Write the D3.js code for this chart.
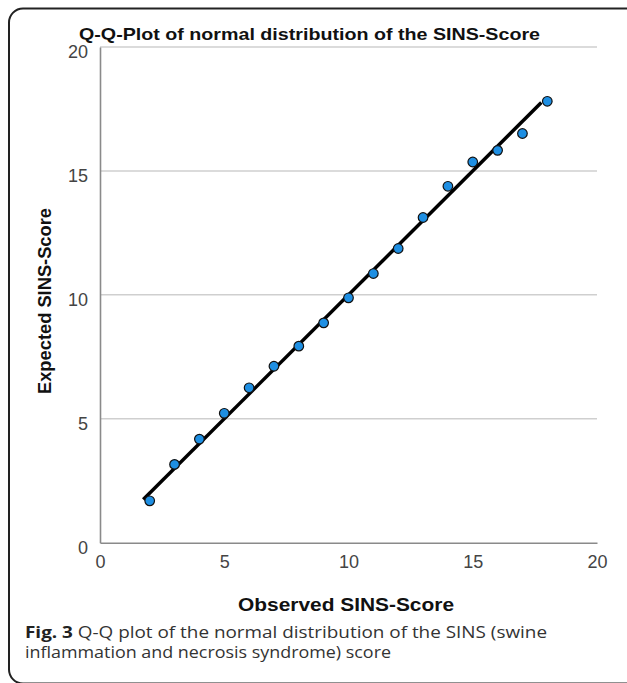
<!DOCTYPE html>
<html><head><meta charset="utf-8">
<script src="https://cdn.jsdelivr.net/npm/d3@7/dist/d3.min.js"></script>
<style>body{margin:0;background:#fff}svg{display:block}</style>
</head><body>
<script>
const observed = [2,3,4,5,6,7,8,9,10,11,12,13,14,15,16,17,18];
const expected = [1.69,3.16,4.18,5.22,6.25,7.12,7.93,8.87,9.88,10.86,11.87,13.12,14.38,15.36,15.83,16.51,17.81];
const lineRange = [1.74, 17.76];
const xTicks = [0,5,10,15,20];
const yTicks = [0,5,10,15,20];
const title = "Q-Q-Plot of normal distribution of the SINS-Score";
const xTitle = "Observed SINS-Score";
const yTitle = "Expected SINS-Score";
const captionBold = "Fig. 3";
const captionLine1 = " Q-Q plot of the normal distribution of the SINS (swine";
const captionLine2 = "inflammation and necrosis syndrome) score";

const W = 627, H = 683;
const svg = d3.select("body").append("svg").attr("width", W).attr("height", H);

svg.append("rect").attr("x", 9).attr("y", 8.5).attr("width", 640).attr("height", 675)
  .attr("rx", 14).attr("fill", "none").attr("stroke", "#222").attr("stroke-width", 2);

const x = d3.scaleLinear().domain([0,20]).range([100, 597]);
const y = d3.scaleLinear().domain([0,20]).range([542.7, 47]);

// gridlines
svg.append("g").selectAll("line").data(yTicks.filter(d => d > 0)).join("line")
  .attr("x1", x(0)).attr("x2", x(20)).attr("y1", d => y(d)).attr("y2", d => y(d))
  .attr("stroke", "#cfcfcf").attr("stroke-width", 1.5);

// axes
const xAxis = svg.append("g").attr("transform", `translate(0,${y(0)})`)
  .call(d3.axisBottom(x).tickValues(xTicks).tickSize(0).tickPadding(13));
const yAxis = svg.append("g").attr("transform", `translate(${x(0)},0)`)
  .call(d3.axisLeft(y).tickValues(yTicks).tickSize(0).tickPadding(12));
[xAxis, yAxis].forEach(g => {
  g.select(".domain").attr("stroke", "#8a8a8a").attr("stroke-width", 1.6);
  g.selectAll("text").attr("font-family", "Liberation Sans, Arial, sans-serif")
    .attr("font-size", 18).attr("fill", "#444");
});
yAxis.selectAll("text").attr("dy", "0.6em");

// reference line
svg.append("line")
  .attr("x1", x(lineRange[0])).attr("y1", y(lineRange[0]))
  .attr("x2", x(lineRange[1])).attr("y2", y(lineRange[1]))
  .attr("stroke", "#000").attr("stroke-width", 3.5);

// points
svg.append("g").selectAll("circle").data(observed).join("circle")
  .attr("cx", d => x(d)).attr("cy", (d,i) => y(expected[i])).attr("r", 4.8)
  .attr("fill", "#1e8fe3").attr("stroke", "#111").attr("stroke-width", 1.2);

// titles
const bold = s => s.attr("font-family", "Liberation Sans, Arial, sans-serif").attr("font-weight", "bold").attr("fill", "#111");
svg.append("text").attr("x", 79).attr("y", 40).text(title).call(bold)
  .attr("font-size", 17).attr("textLength", 461).attr("lengthAdjust", "spacingAndGlyphs");
svg.append("text").attr("x", 346).attr("y", 611).attr("text-anchor", "middle").text(xTitle).call(bold)
  .attr("font-size", 17.5).attr("textLength", 216).attr("lengthAdjust", "spacingAndGlyphs");
svg.append("text").attr("transform", "translate(51,301) rotate(-90)").attr("text-anchor", "middle").text(yTitle).call(bold)
  .attr("font-size", 17.5).attr("textLength", 186).attr("lengthAdjust", "spacingAndGlyphs");

// caption
const cap1 = svg.append("text").attr("x", 25).attr("y", 638)
  .attr("font-family", "Open Sans, sans-serif").attr("font-size", 16).attr("fill", "#333")
  .attr("textLength", 522).attr("lengthAdjust", "spacingAndGlyphs");
cap1.append("tspan").attr("font-weight", "bold").attr("fill", "#222").text(captionBold);
cap1.append("tspan").text(captionLine1);
svg.append("text").attr("x", 25).attr("y", 658)
  .attr("font-family", "Open Sans, sans-serif").attr("font-size", 16).attr("fill", "#333")
  .attr("textLength", 366).attr("lengthAdjust", "spacingAndGlyphs").text(captionLine2);
</script>
</body></html>
